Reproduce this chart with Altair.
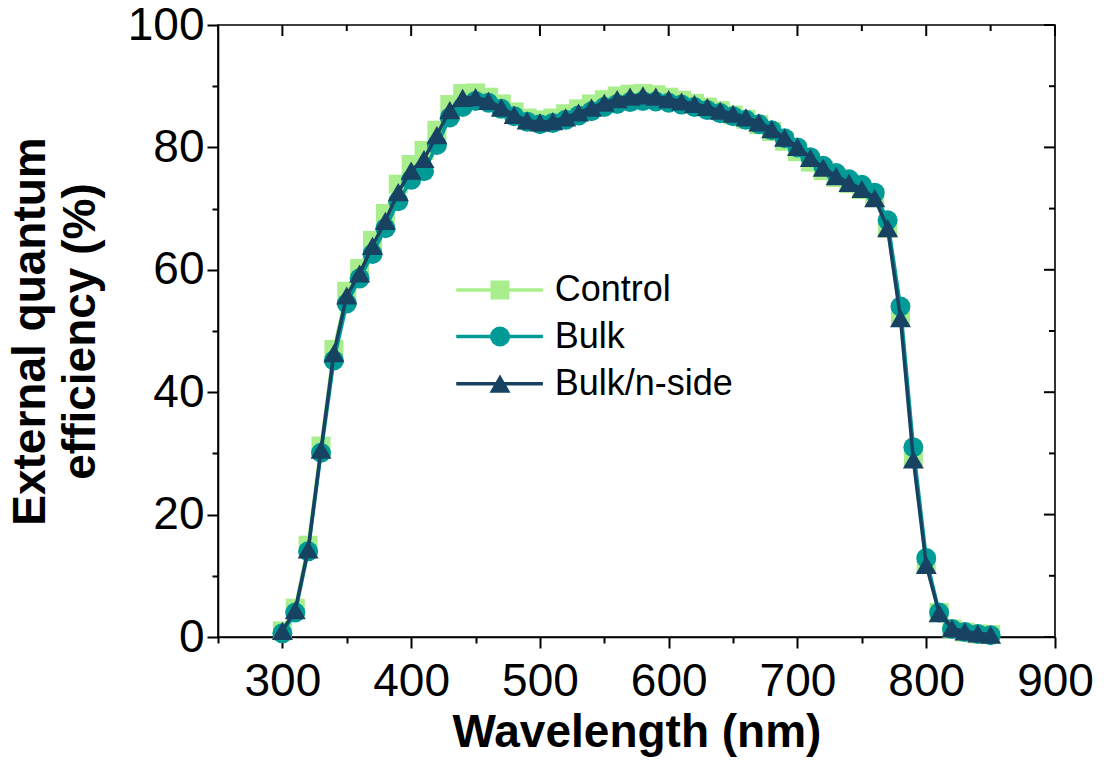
import altair as alt
import pandas as pd

# ---------------- data ----------------
wavelength = list(range(300, 860, 10))

control = [1.0, 4.7, 15.0, 31.2, 47.0, 56.5, 60.2, 64.8, 69.2, 74.0,
           77.2, 79.5, 82.8, 87.0, 88.8, 88.9, 88.2, 87.1, 85.8, 84.8,
           84.5, 84.8, 85.5, 86.3, 87.1, 87.8, 88.4, 88.7, 88.8, 88.6,
           88.2, 87.7, 87.2, 86.6, 86.0, 85.3, 84.6, 83.7, 82.6, 81.0,
           79.3, 77.6, 76.2, 75.1, 74.1, 73.1, 71.8, 66.8, 52.5, 29.5,
           12.0, 4.0, 1.3, 0.8, 0.5, 0.4]

bulk = [0.6, 4.0, 14.0, 30.1, 45.2, 54.5, 58.6, 62.6, 66.8, 71.2,
        74.7, 76.1, 80.4, 84.9, 86.6, 87.6, 87.3, 86.3, 85.1, 84.2,
        83.8, 84.0, 84.5, 85.2, 85.9, 86.6, 87.1, 87.4, 87.6, 87.5,
        87.3, 87.0, 86.6, 86.1, 85.6, 85.1, 84.5, 83.8, 82.8, 81.5,
        80.0, 78.4, 77.0, 75.8, 74.8, 73.9, 72.6, 68.1, 54.0, 31.0,
        12.9, 4.0, 1.3, 0.8, 0.5, 0.3]

bulk_nside = [1.0, 4.4, 14.3, 30.6, 46.4, 55.8, 59.4, 63.9, 68.0, 72.7,
              76.2, 78.1, 82.0, 86.1, 88.1, 88.2, 87.6, 86.5, 85.3, 84.4,
              84.1, 84.3, 84.9, 85.7, 86.5, 87.3, 87.9, 88.3, 88.5, 88.3,
              87.9, 87.5, 87.1, 86.6, 86.0, 85.5, 84.9, 84.1, 83.0, 81.6,
              80.1, 78.3, 76.7, 75.3, 74.2, 73.2, 71.7, 66.8, 52.1, 29.0,
              11.8, 3.9, 1.4, 0.9, 0.6, 0.4]

series_names = ["Control", "Bulk", "Bulk/n-side"]
series_values = [control, bulk, bulk_nside]

x_major = [300, 400, 500, 600, 700, 800, 900]
x_minor = [250, 350, 450, 550, 650, 750, 850]
y_major = [0, 20, 40, 60, 80, 100]
y_minor = [10, 30, 50, 70, 90]

# ---------------- styles ----------------
COLORS = ["#a8ee8c", "#009b96", "#184262"]
SHAPES = ["square", "circle", "triangle-up"]
SIZES = [361, 441, 540]
FONT = "Liberation Sans"
W, H = 837, 612

xscale = alt.Scale(domain=[250, 900], nice=False, zero=False)
yscale = alt.Scale(domain=[0, 100], nice=False, zero=False)

x_axis = alt.Axis(
    values=sorted(x_major + x_minor),
    labelExpr="datum.value % 100 === 0 ? datum.label : ''",
    tickSize={"condition": {"test": "datum.value % 100 === 0", "value": 11}, "value": 6},
    tickWidth=2, tickColor="black", domainColor="black", domainWidth=1.6,
    labelFont=FONT, labelFontSize=46, labelColor="black", labelPadding=11,
    labelFlush=False, labelOverlap=False, grid=False,
    title="Wavelength (nm)", titleFont=FONT, titleFontSize=46,
    titleFontWeight="bold", titleColor="black",
    titleBaseline="alphabetic", titleY=109, titleX=W / 2, titleAlign="center",
)

y_axis = alt.Axis(
    values=sorted(y_major + y_minor),
    labelExpr="datum.value % 20 === 0 ? datum.label : ''",
    tickSize={"condition": {"test": "datum.value % 20 === 0", "value": 11}, "value": 6},
    tickWidth=2, tickColor="black", domainColor="black", domainWidth=1.6,
    labelFont=FONT, labelFontSize=46, labelColor="black", labelPadding=3,
    labelFlush=False, labelOverlap=False, grid=False,
    title=["External quantum", "efficiency (%)"], titleFont=FONT, titleFontSize=46,
    titleFontWeight="bold", titleColor="black", titleLineHeight=50,
    titleAngle=270, titleBaseline="top", titleAlign="center",
    titleX=-210, titleY=H / 2,
)

rows = []
for name, vals in zip(series_names, series_values):
    for w, v in zip(wavelength, vals):
        rows.append({"series": name, "wl": w, "eqe": v})
df = pd.DataFrame(rows)

color_scale = alt.Scale(domain=series_names, range=COLORS)
shape_scale = alt.Scale(domain=series_names, range=SHAPES)
size_scale = alt.Scale(domain=series_names, range=SIZES)

layers = []
for name in series_names:
    base = alt.Chart(df).transform_filter(alt.datum.series == name)
    enc = dict(
        x=alt.X("wl:Q", scale=xscale, axis=x_axis),
        y=alt.Y("eqe:Q", scale=yscale, axis=y_axis),
        color=alt.Color("series:N", scale=color_scale, legend=None),
    )
    layers.append(base.mark_line(strokeWidth=3.5).encode(**enc))
    layers.append(
        base.mark_point(filled=True, opacity=1, strokeWidth=0).encode(
            shape=alt.Shape("series:N", scale=shape_scale, legend=None),
            size=alt.Size("series:N", scale=size_scale, legend=None),
            **enc,
        )
    )

# ---------------- legend (placed in data space) ----------------
LEG_X0, LEG_X1, LEG_XM, LEG_XT = 435.0, 502.3, 469.0, 511.5
LEG_Y = [56.7, 49.1, 41.4]
leg = pd.DataFrame({
    "series": series_names,
    "ly": LEG_Y,
    "x0": [LEG_X0] * 3, "x1": [LEG_X1] * 3, "xm": [LEG_XM] * 3, "xt": [LEG_XT] * 3,
})
leg_color = alt.Color("series:N", scale=color_scale, legend=None)
leg_y = alt.Y("ly:Q", scale=yscale, axis=y_axis)
layers.append(alt.Chart(leg).mark_rule(strokeWidth=3.5).encode(
    x=alt.X("x0:Q", scale=xscale, axis=x_axis), x2="x1:Q", y=leg_y, color=leg_color))
layers.append(alt.Chart(leg).mark_point(filled=True, opacity=1, strokeWidth=0).encode(
    x=alt.X("xm:Q", scale=xscale, axis=x_axis), y=leg_y, color=leg_color,
    shape=alt.Shape("series:N", scale=shape_scale, legend=None),
    size=alt.Size("series:N", scale=size_scale, legend=None)))
layers.append(alt.Chart(leg).mark_text(
    align="left", baseline="middle", font=FONT, fontSize=36, color="black").encode(
    x=alt.X("xt:Q", scale=xscale, axis=x_axis), y=leg_y, text="series:N"))

# ---------------- inward ticks on top and right ----------------
for vals, ln in [(x_major, 11), (x_minor, 6)]:
    layers.append(alt.Chart(pd.DataFrame({"v": vals})).mark_rule(
        color="black", strokeWidth=2).encode(
        x=alt.X("v:Q", scale=xscale, axis=x_axis), y=alt.value(0), y2=alt.value(ln)))
for vals, ln in [(y_major, 11), (y_minor, 6)]:
    layers.append(alt.Chart(pd.DataFrame({"v": vals})).mark_rule(
        color="black", strokeWidth=2).encode(
        y=alt.Y("v:Q", scale=yscale, axis=y_axis), x=alt.value(W), x2=alt.value(W - ln)))

chart = alt.layer(*layers).properties(
    width=W, height=H,
    autosize=alt.AutoSizeParams(type="none"),
    padding={"left": 210, "top": 17, "right": 40, "bottom": 122},
    background="white",
).configure_view(stroke="black", strokeWidth=1.6)

chart.save("out.html", embed_options={"renderer": "svg", "actions": False})
